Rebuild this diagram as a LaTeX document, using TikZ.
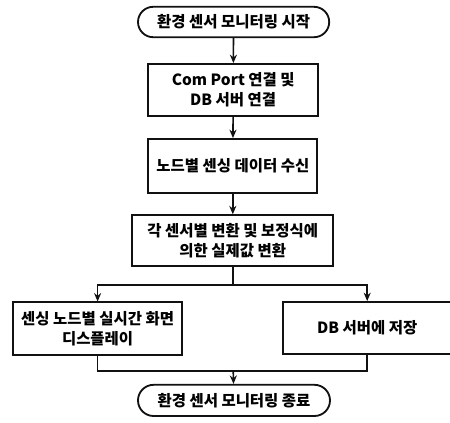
\documentclass[tikz,border=0pt]{standalone}
\usepackage{fontspec}
\newfontfamily\kofont{Noto Sans CJK KR}
\usetikzlibrary{arrows.meta, shapes.misc}
\definecolor{linea}{HTML}{111111}

\tikzset{
  caja/.style={draw=linea, line width=1.3pt, align=center, inner sep=0pt},
  terminal/.style={rounded rectangle, draw=linea, line width=1.3pt, inner sep=0pt},
  flecha/.style={draw=linea, line width=1.1pt, -{Stealth[length=6pt, width=5pt]}},
  linea/.style={draw=linea, line width=1.1pt}
}

\begin{document}
\begin{tikzpicture}[font=\kofont\bfseries\fontsize{11}{14.5}\selectfont]
  \useasboundingbox (0,0) rectangle (11.25,-10.55);
  % columna principal
  \node[terminal, minimum width=4.78cm, minimum height=0.76cm] (inicio) at (5.84,-0.55) {환경 센서 모니터링 시작};
  \node[caja, minimum width=4.25cm, minimum height=1.3cm] (conexion) at (5.83,-2.25) {Com Port 연결 및\\DB 서버 연결};
  \node[caja, minimum width=4.23cm, minimum height=1.35cm] (recepcion) at (5.82,-4.15) {노드별 센싱 데이터 수신};
  \node[caja, minimum width=5.03cm, minimum height=1.28cm] (conversion) at (5.82,-6.02) {각 센서별 변환 및 보정식에\\의한 실제값 변환};
  % ramas
  \node[caja, minimum width=4.23cm, minimum height=1.32cm] (pantalla) at (2.44,-8.22) {센싱 노드별 실시간 화면\\디스플레이};
  \node[caja, minimum width=4.2cm, minimum height=1.3cm] (guardar) at (9.18,-8.2) {DB 서버에 저장};
  \node[terminal, minimum width=4.8cm, minimum height=0.78cm] (fin) at (5.85,-10.01) {환경 센서 모니터링 종료};

  \coordinate (bifurca) at (5.82,-7.13);
  \coordinate (une) at (5.83,-9.28);

  \draw[flecha] (inicio) -- (conexion);
  \draw[flecha] (conexion) -- (recepcion);
  \draw[flecha] (recepcion) -- (conversion);
  \draw[linea] (conversion) -- (bifurca);
  \draw[flecha] (bifurca) -| (pantalla);
  \draw[flecha] (bifurca) -| (guardar);
  \draw[linea] (pantalla) |- (une);
  \draw[linea] (guardar) |- (une);
  \draw[flecha] (une) -- (fin);
\end{tikzpicture}
\end{document}
